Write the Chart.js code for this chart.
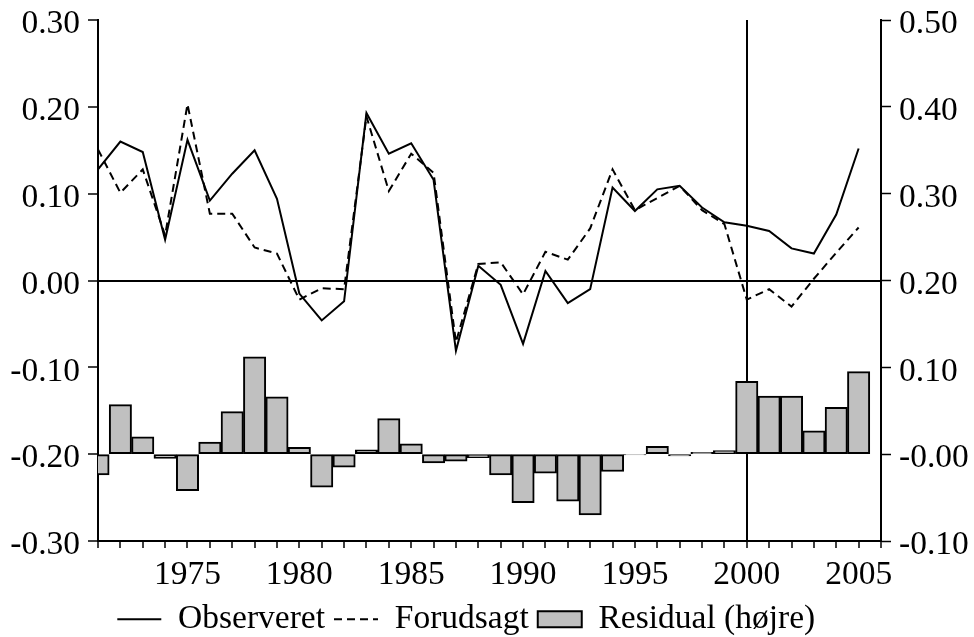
<!DOCTYPE html>
<html><head><meta charset="utf-8">
<script src="https://cdn.jsdelivr.net/npm/chart.js@4.4.1/dist/chart.umd.min.js"></script>
<style>html,body{margin:0;padding:0;background:#fff}</style>
</head><body>
<canvas id="c" width="974" height="637"></canvas>
<script>
const years = [1971,1972,1973,1974,1975,1976,1977,1978,1979,1980,
               1981,1982,1983,1984,1985,1986,1987,1988,1989,1990,
               1991,1992,1993,1994,1995,1996,1997,1998,1999,2000,
               2001,2002,2003,2004,2005];
const observeret = [0.128,0.160,0.148,0.047,0.162,0.092,0.123,0.150,0.094,-0.015,
                    -0.046,-0.024,0.193,0.146,0.158,0.116,-0.081,0.017,-0.005,-0.073,
                    0.011,-0.026,-0.010,0.107,0.080,0.105,0.109,0.084,0.067,0.063,
                    0.057,0.037,0.031,0.076,0.152];
const forudsagt = [0.151,0.101,0.128,0.052,0.203,0.077,0.077,0.038,0.031,-0.022,
                   -0.009,-0.010,0.189,0.103,0.146,0.124,-0.071,0.019,0.021,-0.016,
                   0.033,0.024,0.060,0.128,0.081,0.095,0.109,0.081,0.065,-0.022,
                   -0.010,-0.030,0.002,0.032,0.061];
const residual = [-0.024,0.057,0.020,-0.005,-0.042,0.014,0.049,0.112,0.066,0.008,
                  -0.038,-0.015,0.005,0.041,0.012,-0.010,-0.008,-0.004,-0.024,-0.056,
                  -0.022,-0.054,-0.070,-0.020,-0.001,0.009,-0.002,0.002,0.004,0.084,
                  0.067,0.067,0.027,0.054,0.095];
const leftTickValues = [-0.3,-0.2,-0.1,0,0.1,0.2,0.3];
const leftTickLabels = ["-0.30","-0.20","-0.10","0.00","0.10","0.20","0.30"];
const rightTickValues = [-0.1,0,0.1,0.2,0.3,0.4,0.5];
const rightTickLabels = ["-0.10","-0.00","0.10","0.20","0.30","0.40","0.50"];
const xTickLabels = ["1975","1980","1985","1990","1995","2000","2005"];
const seriesNames = ["Observeret","Forudsagt","Residual (højre)"];
const xMin = 1971, xMax = 2006, markerYear = 2000, zeroLine = 0;

const FONT = "'Liberation Serif','Times New Roman',serif";
const FS = 33.5;
Chart.defaults.font.family = FONT;
Chart.defaults.font.size = FS;
Chart.defaults.color = '#000';
const CLEAR = 'rgba(0,0,0,0)';
const pts = arr => years.map((y, i) => ({x: y, y: arr[i]}));
// y labels sit slightly below their tick in the reference: blank first line + small line height
const yLabelFont = {family: FONT, size: FS, lineHeight: '9px'};

new Chart(document.getElementById('c'), {
  type: 'line',
  data: {
    datasets: [
      {label: seriesNames[0], data: pts(observeret), borderColor: '#000', borderWidth: 2,
       pointRadius: 0, tension: 0, yAxisID: 'y', fill: false},
      {label: seriesNames[1], data: pts(forudsagt), borderColor: '#000', borderWidth: 2,
       borderDash: [8, 5], pointRadius: 0, tension: 0, yAxisID: 'y', fill: false},
      {type: 'bar', label: seriesNames[2], data: pts(residual), backgroundColor: '#c0c0c0',
       borderColor: '#000', borderWidth: 2, borderSkipped: false, barPercentage: 1,
       categoryPercentage: 1, yAxisID: 'y1', clip: 0}
    ]
  },
  options: {
    responsive: false, animation: false, devicePixelRatio: 1,
    layout: {padding: {left: -41.45, right: 0, top: 20, bottom: -9}},
    plugins: {
      tooltip: {enabled: false},
      legend: {
        position: 'bottom', align: 'center',
        labels: {
          usePointStyle: true, pointStyleWidth: 44, boxHeight: 16, padding: 9,
          font: {size: FS, family: FONT}, color: '#000',
          generateLabels: chart => chart.data.datasets.map((ds, i) => ({
            text: ds.label, datasetIndex: i, hidden: false, fontColor: '#000',
            fillStyle: ds.type === 'bar' ? ds.backgroundColor : CLEAR,
            strokeStyle: '#000', lineWidth: 2, lineDash: ds.borderDash || [],
            pointStyle: ds.type === 'bar' ? 'rect' : 'line'
          }))
        }
      }
    },
    scales: {
      x: {
        type: 'linear', min: xMin, max: xMax, offset: false,
        grid: {offset: false, color: c => (c.tick && c.tick.value === markerYear) ? '#000' : CLEAR,
               tickColor: '#000', lineWidth: 2, tickWidth: 1.5, tickLength: 7},
        border: {color: '#000', width: 2},
        afterBuildTicks: s => { const t = []; for (let v = xMin; v <= xMax; v++) t.push({value: v}); s.ticks = t; },
        ticks: {autoSkip: false, maxRotation: 0, minRotation: 0, padding: 7.5,
                callback: v => xTickLabels.includes(String(v)) ? String(v) : ''},
        afterFit: s => { s.height = 52.5; }
      },
      y: {
        type: 'linear', position: 'left', min: -0.3, max: 0.3,
        grid: {color: c => (c.tick && c.tick.value === zeroLine) ? '#000' : CLEAR,
               tickColor: '#000', lineWidth: 2, tickWidth: 1.5, tickLength: 10},
        border: {color: '#000', width: 2},
        afterBuildTicks: s => { s.ticks = leftTickValues.map(v => ({value: v})); },
        ticks: {padding: 8, font: yLabelFont, callback: (v, i) => ['', leftTickLabels[i]]},
        afterFit: s => { s.width = 139.45; }
      },
      y1: {
        type: 'linear', position: 'right', min: -0.1, max: 0.5,
        grid: {drawOnChartArea: false, tickColor: '#000', tickWidth: 1.5, tickLength: 10},
        border: {color: '#000', width: 2},
        afterBuildTicks: s => { s.ticks = rightTickValues.map(v => ({value: v})); },
        ticks: {padding: 8, font: yLabelFont, callback: (v, i) => ['', rightTickLabels[i]]},
        afterFit: s => { s.width = 93; }
      }
    }
  }
});
</script>
</body></html>
